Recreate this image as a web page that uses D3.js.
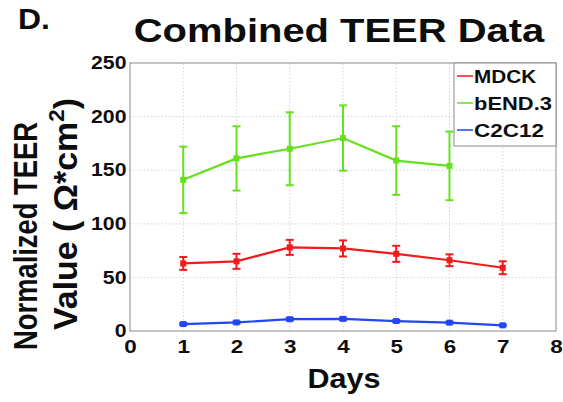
<!DOCTYPE html>
<html>
<head>
<meta charset="utf-8">
<script src="https://cdn.jsdelivr.net/npm/d3@7/dist/d3.min.js"></script>
<style>
  html, body { margin: 0; padding: 0; background: #fff; }
  svg { display: block; font-family: Arial, "Liberation Sans", sans-serif; }
</style>
</head>
<body>
<svg id="chart" width="563" height="402"></svg>
<script>
// Days of measurement
const days = [1, 2, 3, 4, 5, 6, 7];
// Normalized TEER means and error bars per cell line
const mdckMean = [63, 65, 78, 77, 72, 66, 59];
const mdckErr  = [6, 7, 7, 7.5, 7.5, 5.5, 6];
const bendDays = [1, 2, 3, 4, 5, 6];
const bendMean = [141, 161, 170, 180, 159, 154];
const bendErr  = [31, 30, 34, 30.5, 32, 32];
const c2Mean   = [6.5, 8, 11, 11.3, 9.3, 7.8, 5.3];
const c2Err    = [1, 1, 1.2, 1.2, 1, 1, 0.8];
const xTicks = [0, 1, 2, 3, 4, 5, 6, 7, 8];
const yTicks = [0, 50, 100, 150, 200, 250];
const seriesNames = ["MDCK", "bEND.3", "C2C12"];

const series = [
  { name: seriesNames[0], x: days, y: mdckMean, e: mdckErr, color: "#f21b1b" },
  { name: seriesNames[1], x: bendDays, y: bendMean, e: bendErr, color: "#66e01e" },
  { name: seriesNames[2], x: days, y: c2Mean, e: c2Err, color: "#2346f5" }
];

const svg = d3.select("#chart");
const m = { left: 130, right: 7, top: 63, bottom: 71 };
const W = 563, H = 402;
const INK = "#0d0d0d";
const WIDE = 1.18; // horizontal widening of the lettering

const x = d3.scaleLinear().domain([0, 8]).range([m.left, W - m.right]);
const y = d3.scaleLinear().domain([0, 250]).range([H - m.bottom, m.top]);

// Bold label placed at (px,py), optionally rotated; stretched to a given length,
// and optionally scaled across the text direction
function label(parent, str, px, py, size, width, opts = {}) {
  const g = parent.append("g")
    .attr("transform", `translate(${px},${py}) rotate(${opts.rotate || 0})`);
  const t = g.append("text")
    .attr("text-anchor", opts.anchor || "middle")
    .attr("font-size", size).attr("font-weight", "bold").attr("fill", INK);
  if (typeof str === "function") str(t); else t.text(str);
  const w = t.node().getBBox().width;
  const sx = width ? width / w : 1;
  const sy = opts.cross || 1;
  t.attr("transform", `scale(${sx},${sy})`);
  return t;
}

// grid
const grid = svg.append("g");
grid.selectAll("line.vx").data(xTicks.slice(1, -1)).join("line")
  .attr("x1", d => x(d)).attr("x2", d => x(d))
  .attr("y1", y(0)).attr("y2", y(250))
  .attr("stroke", "#d4d4d4").attr("stroke-width", 1).attr("stroke-dasharray", "1.5,2");
grid.selectAll("line.hy").data(yTicks.slice(1, -1)).join("line")
  .attr("x1", x(0)).attr("x2", x(8))
  .attr("y1", d => y(d)).attr("y2", d => y(d))
  .attr("stroke", "#d4d4d4").attr("stroke-width", 1).attr("stroke-dasharray", "1.5,2");

// plot frame
svg.append("rect")
  .attr("x", x(0)).attr("y", y(250))
  .attr("width", x(8) - x(0)).attr("height", y(0) - y(250))
  .attr("fill", "none").attr("stroke", "#8a8a8a").attr("stroke-width", 1);

// axes
const xAxis = d3.axisBottom(x).tickValues(xTicks).tickSize(0).tickPadding(9).tickFormat(d3.format("d"));
const gx = svg.append("g").attr("transform", `translate(0,${y(0)})`).call(xAxis);
gx.select(".domain").remove();
gx.selectAll("text").attr("font-size", 19).attr("font-weight", "bold").attr("fill", INK)
  .attr("font-family", "Arial, 'Liberation Sans', sans-serif")
  .attr("transform", `scale(${WIDE},1)`);

const yAxis = d3.axisLeft(y).tickValues(yTicks).tickSize(0).tickPadding(3).tickFormat(d3.format("d"));
const gy = svg.append("g").attr("transform", `translate(${x(0)},0)`).call(yAxis);
gy.select(".domain").remove();
gy.selectAll("text").attr("font-size", 18).attr("font-weight", "bold").attr("fill", INK)
  .attr("font-family", "Arial, 'Liberation Sans', sans-serif")
  .attr("transform", `scale(${WIDE},1)`);

// series
const line = d3.line().x(d => x(d[0])).y(d => y(d[1]));
series.forEach(s => {
  const pts = s.x.map((d, i) => [d, s.y[i], s.e[i]]);
  const g = svg.append("g");
  g.append("path").datum(pts).attr("d", line)
    .attr("fill", "none").attr("stroke", s.color).attr("stroke-width", 2.2);
  // error bars
  g.selectAll("line.eb").data(pts).join("line")
    .attr("x1", d => x(d[0])).attr("x2", d => x(d[0]))
    .attr("y1", d => y(d[1] - d[2])).attr("y2", d => y(d[1] + d[2]))
    .attr("stroke", s.color).attr("stroke-width", 2);
  ["top", "bot"].forEach(k => {
    g.selectAll("line.cap" + k).data(pts).join("line")
      .attr("x1", d => x(d[0]) - 4).attr("x2", d => x(d[0]) + 4)
      .attr("y1", d => y(k === "top" ? d[1] + d[2] : d[1] - d[2]))
      .attr("y2", d => y(k === "top" ? d[1] + d[2] : d[1] - d[2]))
      .attr("stroke", s.color).attr("stroke-width", 2);
  });
  g.selectAll("rect.mk").data(pts).join("rect")
    .attr("x", d => x(d[0]) - 3).attr("y", d => y(d[1]) - 3)
    .attr("width", 6).attr("height", 6).attr("fill", s.color);
});

// legend
const lg = svg.append("g");
lg.append("rect").attr("x", 454).attr("y", y(250)).attr("width", x(8) - 454).attr("height", 83)
  .attr("fill", "#fff").attr("stroke", "#8a8a8a").attr("stroke-width", 1);
const legendWidths = [63, 78, 70];
series.forEach((s, i) => {
  const cy = 76 + i * 27;
  lg.append("line").attr("x1", 457).attr("x2", 473).attr("y1", cy).attr("y2", cy)
    .attr("stroke", s.color).attr("stroke-width", 1.5);
  label(lg, s.name, 474, cy + 7, 18.5, legendWidths[i], { anchor: "start" });
});

// titles
label(svg, "D.", 18, 29, 30, 32, { anchor: "start" });
label(svg, "Combined TEER Data", 339, 42, 34, 412);
label(svg, "Days", 344, 388, 28, 73);

// y-axis title, two rotated lines
label(svg, "Normalized TEER", 37, 236, 27.5, 228, { rotate: -90, cross: WIDE });
label(svg, t => {
  t.append("tspan").text("Value ( Ω*cm");
  t.append("tspan").attr("font-size", 18).attr("dy", -11).text("2");
  t.append("tspan").attr("dy", 11).text(")");
}, 77, 214, 27.5, 232, { rotate: -90, cross: WIDE });
</script>
</body>
</html>
